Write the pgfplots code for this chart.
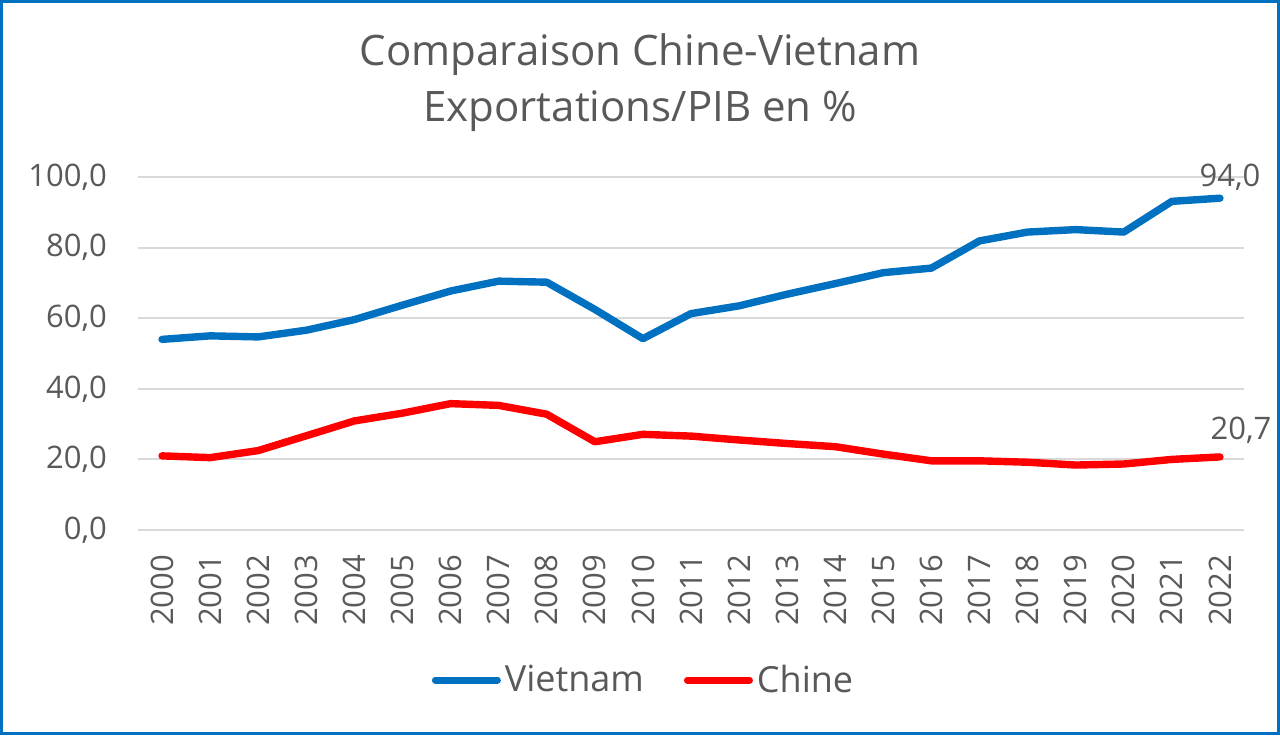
\documentclass[border=0pt]{standalone}
\usepackage{fontspec}
\setmainfont{Open Sans}
\usepackage{pgfplots}
\pgfplotsset{compat=1.18}
\definecolor{vnblue}{HTML}{0070C0}
\definecolor{cnred}{HTML}{FF0000}
\definecolor{txt}{HTML}{595959}
\definecolor{gridc}{HTML}{D9D9D9}

\begin{document}
\begin{tikzpicture}
\useasboundingbox (0,0) rectangle (640pt,367.5pt);
% outer frame
\draw[vnblue, line width=1.5pt] (0.75pt,0.75pt) rectangle (639.25pt,366.75pt);
\begin{axis}[
  at={(69pt,102.5pt)}, anchor=south west,
  scale only axis, width=553pt, height=176.5pt,
  xmin=-0.5, xmax=22.5, ymin=0, ymax=100,
  axis line style={draw=none},
  major tick length=0pt,
  ytick={0,20,...,100},
  ymajorgrids, grid style={gridc, line width=1pt},
  xtick={0,...,22},
  xticklabels={2000,2001,2002,2003,2004,2005,2006,2007,2008,2009,2010,2011,2012,2013,2014,2015,2016,2017,2018,2019,2020,2021,2022},
  xticklabel style={rotate=90, anchor=east, font=\fontsize{15.5}{18}\selectfont, text=txt},
  xticklabel shift=9pt,
  yticklabel style={font=\fontsize{15.5}{18}\selectfont, text=txt},
  yticklabel shift=12pt,
  /pgf/number format/.cd, fixed, fixed zerofill, precision=1, use comma, 1000 sep={}, assume math mode=true,
  /pgfplots/.cd,
  title={Comparaison Chine-Vietnam\\Exportations/PIB en \%},
  title style={at={(0.454,1.233)}, anchor=center, align=center, font=\fontsize{21}{28}\selectfont, text=txt},
  legend columns=2,
  legend style={at={(0.458,-0.425)}, anchor=center, draw=none, fill=none,
    font=\fontsize{18}{21}\selectfont, text=txt,
    /tikz/every even column/.append style={column sep=18pt}},
  legend image code/.code={\draw[#1, line width=3.5pt, line cap=round] (0pt,0pt) -- (31pt,0pt);},
]
\addplot[vnblue, line width=3.7pt, line join=round, line cap=round] coordinates {
  (0,54.0) (1,55.0) (2,54.7) (3,56.6) (4,59.6) (5,63.7) (6,67.7) (7,70.5)
  (8,70.2) (9,62.5) (10,54.2) (11,61.3) (12,63.5) (13,66.8) (14,69.8)
  (15,72.9) (16,74.2) (17,81.9) (18,84.4) (19,85.1) (20,84.4) (21,93.1) (22,94.0)
};
\addlegendentry{Vietnam}
\addplot[cnred, line width=3.7pt, line join=round, line cap=round] coordinates {
  (0,21.0) (1,20.5) (2,22.5) (3,26.7) (4,30.9) (5,33.1) (6,35.8) (7,35.3)
  (8,32.8) (9,25.0) (10,27.1) (11,26.6) (12,25.5) (13,24.5) (14,23.6)
  (15,21.5) (16,19.6) (17,19.6) (18,19.2) (19,18.4) (20,18.7) (21,20.0) (22,20.7)
};
\addlegendentry{Chine}
% value labels on the last year
\addplot[draw=none, forget plot, point meta=y, nodes near coords,
  nodes near coords style={anchor=center, xshift=5pt, yshift=10.5pt,
    font=\fontsize{15.5}{18}\selectfont, text=txt}] coordinates {(22,94.0)};
\addplot[draw=none, forget plot, point meta=y, nodes near coords,
  nodes near coords style={anchor=center, xshift=10.5pt, yshift=13.5pt,
    font=\fontsize{15.5}{18}\selectfont, text=txt}] coordinates {(22,20.7)};
\end{axis}
\end{tikzpicture}
\end{document}
